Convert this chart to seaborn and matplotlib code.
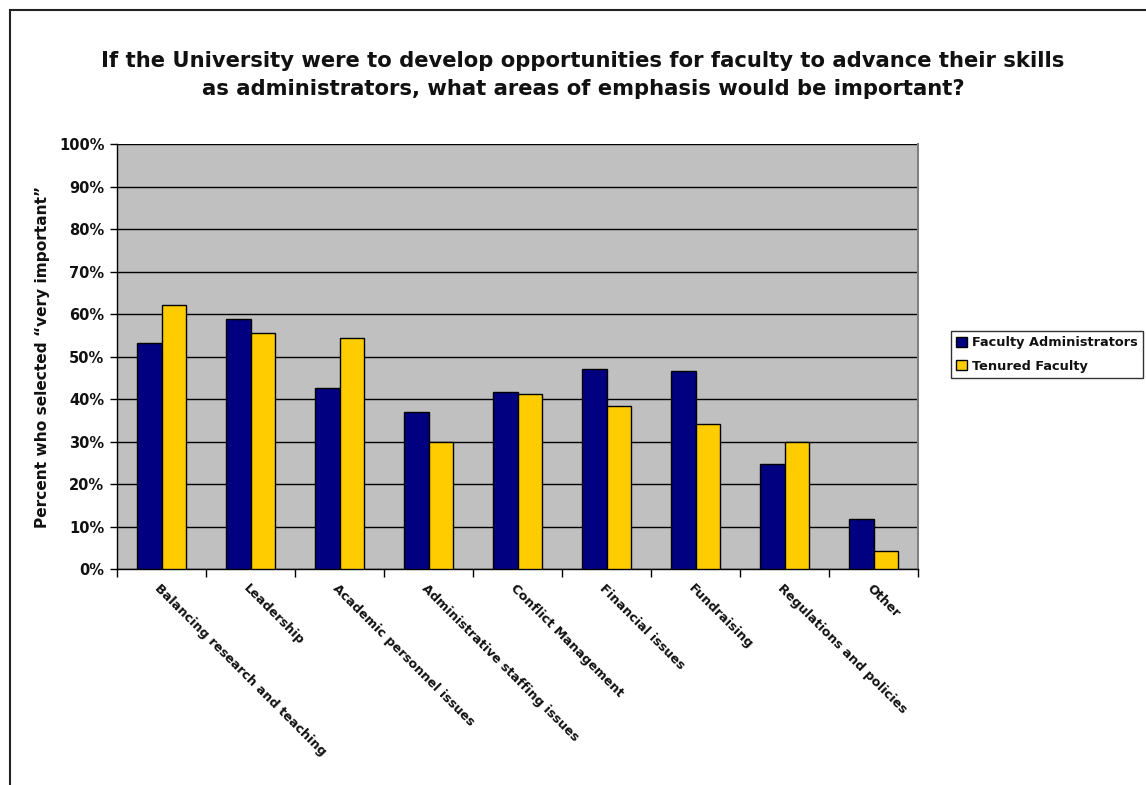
import matplotlib
matplotlib.use("Agg")
import matplotlib.pyplot as plt
import seaborn as sns
import pandas as pd
from matplotlib.ticker import PercentFormatter, FixedLocator
from matplotlib.patches import Rectangle

categories = ["Balancing research and teaching", "Leadership", "Academic personnel issues",
              "Administrative staffing issues", "Conflict Management", "Financial issues",
              "Fundraising", "Regulations and policies", "Other"]
faculty_admin = [0.531, 0.589, 0.427, 0.371, 0.418, 0.470, 0.466, 0.248, 0.119]
tenured_faculty = [0.621, 0.555, 0.545, 0.299, 0.413, 0.384, 0.342, 0.299, 0.043]
series_names = ["Faculty Administrators", "Tenured Faculty"]
colors = ["#000080", "#FFCC00"]
title = ("If the University were to develop opportunities for faculty to advance their skills\n"
         "as administrators, what areas of emphasis would be important?")
ylabel = "Percent who selected \u201cvery important\u201d"

df = pd.DataFrame({
    "category": categories * 2,
    "value": faculty_admin + tenured_faculty,
    "series": [series_names[0]] * len(categories) + [series_names[1]] * len(categories),
})

sns.set_theme(style="white")
plt.rcParams["font.family"] = ["DejaVu Sans"]
plt.rcParams["font.weight"] = "bold"

W, H = 1146, 785
fig = plt.figure(figsize=(W / 100, H / 100), dpi=100)
fig.patch.set_facecolor("white")
ax = fig.add_axes([117 / W, 1 - 569.3 / H, (918 - 117) / W, (569.3 - 144) / H])

sns.barplot(data=df, x="category", y="value", hue="series", palette=colors, saturation=1,
            width=0.56, edgecolor="black", linewidth=1, ax=ax, legend=True, zorder=3)

ax.set_facecolor("#C0C0C0")
ax.set_ylim(0, 1.0)
ax.set_xlim(-0.5, len(categories) - 0.5)
ax.yaxis.set_major_locator(FixedLocator([i / 10 for i in range(11)]))
ax.yaxis.set_major_formatter(PercentFormatter(1.0, decimals=0))
ax.grid(axis="y", color="black", linewidth=1, zorder=0)
ax.set_axisbelow(True)

ax.spines["top"].set_visible(False)
ax.spines["right"].set_color("#808080")
ax.spines["right"].set_linewidth(1.5)
ax.spines["left"].set_color("black")
ax.spines["bottom"].set_color("black")
ax.spines["left"].set_linewidth(1)
ax.spines["bottom"].set_linewidth(1)

# x ticks between categories
ax.set_xticks(range(len(categories)))
ax.set_xticklabels(categories, rotation=-45, ha="left", va="top", rotation_mode="anchor",
                   fontsize=9.2, fontweight="bold", color="#111111")
ax.tick_params(axis="x", which="major", length=0, pad=9)
ax.set_xticks([i + 0.5 for i in range(-1, len(categories))], minor=True)
ax.tick_params(axis="x", which="minor", length=6, width=1, color="black", direction="out", bottom=True)
ax.tick_params(axis="y", length=5, width=1, color="black", direction="out", left=True, pad=4)
for lbl in ax.get_yticklabels():
    lbl.set_fontsize(10.5)
    lbl.set_fontweight("bold")
    lbl.set_color("#111111")

ax.set_xlabel("")
ax.set_ylabel("")
fig.text(43 / W, 1 - 357 / H, ylabel, rotation=90, ha="center", va="center",
         fontsize=11.1, fontweight="bold", color="#111111")

fig.text(583 / W, 1 - 75 / H, title, ha="center", va="center", fontsize=15.2,
         fontweight="bold", color="#111111", linespacing=1.45)

leg = ax.legend(loc="upper left", bbox_to_anchor=(951 / W, 1 - 331 / H),
                bbox_transform=fig.transFigure, frameon=True, fancybox=False,
                edgecolor="black", fontsize=9.3, handlelength=0.8, handleheight=0.8,
                handletextpad=0.4, borderpad=0.42, labelspacing=0.8, borderaxespad=0)
leg.get_frame().set_linewidth(1)
for t in leg.get_texts():
    t.set_fontweight("bold")
    t.set_color("#111111")

# outer chart border (top and left visible)
fig.patches.append(Rectangle((10 / W, -0.2), 2.0, 1 - 10 / H + 0.2, transform=fig.transFigure,
                             fill=False, edgecolor="#222222", linewidth=1.5))

fig.savefig("out.png", dpi=100)
